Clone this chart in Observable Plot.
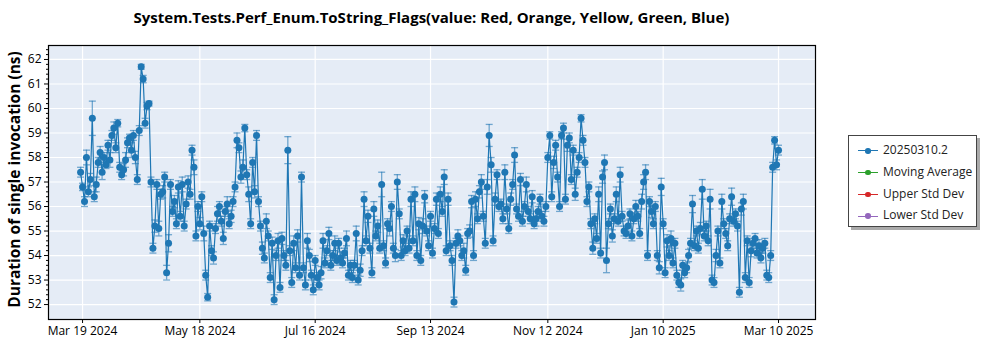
<!DOCTYPE html>
<html>
<head>
<meta charset="utf-8">
<script src="https://cdn.jsdelivr.net/npm/d3@7"></script>
<script src="https://cdn.jsdelivr.net/npm/@observablehq/plot@0.6"></script>
<style>
  body { margin: 0; background: #fff; font-family: "Open Sans", sans-serif; }
  #wrap { position: relative; width: 1000px; height: 350px; overflow: hidden; }
  #title { position: absolute; left: 48px; width: 767px; top: 7px; text-align: center;
           font-weight: bold; font-size: 15px; color: #000; white-space: nowrap; }
  #chart { position: absolute; left: 0; top: 40px; }
  #legend { position: absolute; left: 848px; top: 135px; width: 129px; height: 92px;
            border: 1px solid #444; background: #fff; box-shadow: 3px 3px 0 #aaa;
            box-sizing: border-box; padding-top: 3px; }
  .item { height: 21.8px; line-height: 21.8px; font-size: 12px; color: #222; white-space: nowrap; }
  .sym { display: inline-block; position: relative; width: 20px; height: 10px;
         margin-left: 9px; margin-right: 5px; vertical-align: middle; }
  .sym::before { content: ""; position: absolute; left: 0; right: 0; top: 4.5px; height: 1.2px; background: var(--c); }
  .sym::after { content: ""; position: absolute; left: 7px; top: 2.3px; width: 5.5px; height: 5.5px;
                border-radius: 50%; background: var(--c); }
</style>
</head>
<body>
<div id="wrap">
  <div id="title"></div>
  <div id="chart"></div>
  <div id="legend"></div>
</div>
<script>
const chartTitle = "System.Tests.Perf_Enum.ToString_Flags(value: Red, Orange, Yellow, Green, Blue)";
const yAxisLabel = "Duration of single invocation (ns)";
const seriesNames = ["20250310.2", "Moving Average", "Upper Std Dev", "Lower Std Dev"];
const seriesColors = ["#1f77b4", "#2ca02c", "#d62728", "#9467bd"];

// first run date; one run per day after it
const firstRun = "2024-03-18";

// mean duration (ns) per daily run
const values = [
  57.4, 56.8, 56.2, 58.0, 56.6, 57.1, 59.6, 56.4, 56.9,
  57.8, 58.2, 57.4, 58.0, 57.7,
  58.5, 57.9, 58.9, 59.2, 58.4, 59.4,
  57.6, 57.3, 57.5, 57.9,
  58.6, 58.8, 58.3, 58.9, 58.0, 57.1,
  59.1, 61.7, 61.2,
  59.4, 60.1, 60.2, 57.0, 54.3, 55.2, 56.9, 55.1,
  56.5, 56.6, 57.2, 53.3, 54.5, 56.9, 55.8, 56.2,
  55.3, 56.8, 55.6, 56.9, 55.2, 56.1, 57.0, 56.5, 58.3, 57.6, 54.8,
  56.0, 55.3, 56.4, 54.9, 53.2, 52.3, 55.2,
  54.2, 53.9, 55.1, 55.7, 56.0, 55.4, 54.7, 55.8, 56.1, 55.3, 55.6, 56.2,
  56.8, 58.7, 58.4, 57.2, 57.6, 59.2, 57.3, 56.5, 55.3, 57.8, 56.6, 58.9, 56.2,
  55.2, 54.3, 53.9, 55.4, 54.8, 53.1, 54.5, 52.2, 54.0, 54.6, 52.7, 54.7, 54.0, 53.6,
  58.3, 54.2, 52.9, 54.5, 53.5, 54.8, 53.2, 57.2, 53.5, 52.8, 54.6, 54.0, 53.2, 52.6, 53.8,
  53.1, 52.8, 53.3, 54.6, 53.7, 54.2, 54.9, 53.6, 54.0, 54.5, 53.8, 54.5, 53.9, 53.7, 54.1, 54.7, 53.2, 53.6,
  53.1, 53.6, 54.9, 53.0, 53.4, 54.2,
  56.3, 54.6, 55.6, 54.3, 53.3, 55.9, 54.8, 55.2, 54.3, 56.9, 54.4, 53.7,
  55.3, 55.1, 56.0, 54.3, 54.0, 57.0, 55.7, 54.0, 54.6, 54.2, 55.0, 54.3,
  56.3, 54.6, 56.5, 54.0, 55.3, 53.8, 55.2, 56.4, 55.0, 54.4, 55.6, 54.1,
  55.1, 56.3, 54.9, 56.5, 55.8, 57.2, 54.2, 56.3, 54.4, 53.8,
  52.1, 54.5, 54.8, 54.6, 54.0, 54.2, 53.4, 54.9, 55.0,
  56.2, 54.0, 56.3, 55.5, 56.6, 57.0, 55.6, 54.5, 56.8, 58.9, 57.7, 54.6, 56.3, 57.3, 56.0,
  56.1, 55.5, 57.4, 55.9, 55.1, 56.3, 56.9, 58.1, 55.9, 55.6, 57.1, 55.4, 56.0, 56.9, 55.8, 55.5, 56.4, 55.3, 55.5, 55.8, 56.3, 55.6, 55.4,
  56.0, 58.0, 58.9, 56.4, 57.8, 58.5, 57.2, 56.0, 58.9, 59.2, 56.3, 58.5, 58.8, 57.1, 58.3, 56.5, 57.4, 58.0, 59.6, 58.7, 57.8, 56.2,
  56.8, 55.3, 54.3, 55.5, 54.7, 56.5, 54.1, 57.2, 57.8, 53.8,
  55.3, 55.9, 54.8, 55.5, 56.5, 55.4, 57.3, 55.6, 55.0, 54.9, 55.2, 55.7, 54.8, 55.5, 56.0, 55.6, 54.9, 56.2, 57.0,
  57.4, 54.0, 56.2, 55.8, 55.3, 56.0, 54.0, 53.5, 56.8, 55.3,
  53.3, 54.6, 54.0, 54.7, 53.7, 54.5, 53.2, 52.9, 52.8, 53.6,
  53.3, 53.5, 54.0, 54.5, 56.1, 54.4, 55.0, 54.3, 55.1, 56.7, 54.8, 55.2,
  54.6, 56.3, 53.0, 52.9, 54.0, 55.0, 53.7, 56.2, 55.3, 54.9,
  54.4, 55.5, 56.4, 55.4, 55.7, 55.2, 52.5, 55.9, 56.2, 53.1,
  54.6, 52.9, 54.2, 54.5, 54.7, 54.1, 54.4, 53.9, 54.3, 54.5, 53.2, 53.1, 54.0,
  57.6, 58.7, 57.7, 58.3
];

// error-bar half width (ns) per run
const errors = [
  0.2, 0.15, 0.2, 0.3, 0.2, 0.25, 0.7, 0.2, 0.3,
  0.2, 0.25, 0.3, 0.2, 0.15,
  0.2, 0.3, 0.2, 0.25, 0.2, 0.15,
  0.2, 0.2, 0.25, 0.3,
  0.2, 0.15, 0.3, 0.2, 0.25, 0.2,
  0.2, 0.1, 0.15,
  0.2, 0.15, 0.1, 0.2, 0.2, 0.25, 0.2, 0.3,
  0.2, 0.25, 0.2, 0.3, 0.35, 0.2, 0.2, 0.25,
  0.2, 0.25, 0.2, 0.3, 0.2, 0.2, 0.25, 0.2, 0.2, 0.3, 0.2,
  0.2, 0.25, 0.2, 0.3, 0.2, 0.15, 0.2,
  0.2, 0.25, 0.2, 0.3, 0.2, 0.2, 0.25, 0.2, 0.3, 0.2, 0.25, 0.2,
  0.2, 0.3, 0.2, 0.25, 0.3, 0.15, 0.2, 0.3, 0.2, 0.2, 0.25, 0.2, 0.2,
  0.2, 0.25, 0.2, 0.3, 0.2, 0.2, 0.25, 0.2, 0.2, 0.3, 0.2, 0.25, 0.2, 0.2,
  0.55, 0.2, 0.2, 0.3, 0.2, 0.25, 0.2, 0.2, 0.2, 0.2, 0.3, 0.25, 0.2, 0.2, 0.2,
  0.2, 0.2, 0.25, 0.3, 0.2, 0.2, 0.25, 0.2, 0.2, 0.3, 0.2, 0.2, 0.25, 0.2, 0.2, 0.3, 0.2, 0.2,
  0.2, 0.2, 0.3, 0.2, 0.25, 0.2,
  0.3, 0.2, 0.25, 0.2, 0.2, 0.3, 0.2, 0.25, 0.2, 0.5, 0.2, 0.2,
  0.2, 0.3, 0.2, 0.2, 0.25, 0.3, 0.2, 0.2, 0.25, 0.2, 0.2, 0.2,
  0.3, 0.2, 0.3, 0.2, 0.25, 0.2, 0.3, 0.25, 0.2, 0.2, 0.2, 0.2,
  0.2, 0.25, 0.2, 0.3, 0.2, 0.3, 0.2, 0.25, 0.2, 0.2,
  0.2, 0.2, 0.25, 0.2, 0.2, 0.3, 0.2, 0.2, 0.25,
  0.25, 0.2, 0.3, 0.2, 0.25, 0.3, 0.2, 0.2, 0.3, 0.45, 0.3, 0.2, 0.25, 0.2, 0.2,
  0.2, 0.2, 0.3, 0.2, 0.2, 0.25, 0.2, 0.3, 0.2, 0.2, 0.25, 0.2, 0.2, 0.3, 0.2, 0.2, 0.25, 0.2, 0.3, 0.2, 0.2, 0.2, 0.2,
  0.2, 0.2, 0.15, 0.2, 0.25, 0.2, 0.2, 0.2, 0.15, 0.2, 0.2, 0.25, 0.2, 0.2, 0.2, 0.25, 0.2, 0.2, 0.15, 0.2, 0.2, 0.2,
  0.2, 0.2, 0.25, 0.2, 0.2, 0.3, 0.2, 0.25, 0.3, 0.5,
  0.2, 0.2, 0.25, 0.2, 0.3, 0.2, 0.3, 0.2, 0.2, 0.2, 0.25, 0.2, 0.2, 0.2, 0.25, 0.2, 0.2, 0.3, 0.3,
  0.3, 0.2, 0.2, 0.25, 0.2, 0.2, 0.2, 0.25, 0.35, 0.2,
  0.2, 0.25, 0.2, 0.3, 0.2, 0.2, 0.2, 0.2, 0.25, 0.2,
  0.2, 0.2, 0.25, 0.2, 0.35, 0.2, 0.2, 0.2, 0.25, 0.4, 0.2, 0.2,
  0.2, 0.4, 0.2, 0.2, 0.25, 0.2, 0.2, 0.3, 0.2, 0.2,
  0.2, 0.2, 0.35, 0.2, 0.2, 0.2, 0.2, 0.25, 0.3, 0.2,
  0.2, 0.2, 0.25, 0.2, 0.2, 0.2, 0.25, 0.2, 0.2, 0.2, 0.2, 0.2, 0.2,
  0.2, 0.15, 0.2, 0.2
];

const xTickDates = ["2024-03-19", "2024-05-18", "2024-07-16", "2024-09-13", "2024-11-12", "2025-01-10", "2025-03-10"];
const yTickValues = [52, 53, 54, 55, 56, 57, 58, 59, 60, 61, 62];
const xDomain = ["2024-03-01T14:00", "2025-03-28T22:00"];
const yDomain = [51.39, 62.57];

// ---- build ----
const parseUTC = s => new Date(s.length > 10 ? s + ":00Z" : s + "T00:00:00Z");
const start = parseUTC(firstRun);
const data = values.map((v, i) => ({
  date: d3.utcDay.offset(start, i),
  value: v,
  lo: v - errors[i],
  hi: v + errors[i]
}));
const xTicks = xTickDates.map(parseUTC);
const yMinor = d3.range(52, 62.5, 0.2).map(v => +v.toFixed(1)).filter(v => !yTickValues.includes(v));
const blue = seriesColors[0];
const cap = { draw(ctx) { ctx.moveTo(-3.5, 0); ctx.lineTo(3.5, 0); } };

const chart = Plot.plot({
  width: 1000,
  height: 310,
  marginLeft: 48,
  marginRight: 185,
  marginTop: 5,
  marginBottom: 31,
  style: { fontFamily: "Open Sans, sans-serif", fontSize: "12px", color: "#000", background: "transparent", overflow: "visible" },
  x: { type: "utc", domain: xDomain.map(parseUTC) },
  y: { domain: yDomain },
  marks: [
    Plot.frame({ fill: "#e5ecf6" }),
    Plot.gridX(xTicks, { stroke: "#fff", strokeOpacity: 1, strokeWidth: 1.2 }),
    Plot.gridY(yTickValues, { stroke: "#fff", strokeOpacity: 1, strokeWidth: 1.2 }),
    Plot.ruleX(data, { x: "date", y1: "lo", y2: "hi", stroke: blue, strokeOpacity: 0.6, strokeWidth: 1.3 }),
    Plot.dot(data, { x: "date", y: "lo", symbol: cap, stroke: blue, strokeOpacity: 0.6, strokeWidth: 1.3, fill: "none" }),
    Plot.dot(data, { x: "date", y: "hi", symbol: cap, stroke: blue, strokeOpacity: 0.6, strokeWidth: 1.3, fill: "none" }),
    Plot.line(data, { x: "date", y: "value", stroke: blue, strokeWidth: 1.2 }),
    Plot.dot(data, { x: "date", y: "value", r: 3.5, fill: blue, stroke: "none" }),
    Plot.frame({ stroke: "#000", strokeWidth: 1.2 }),
    Plot.axisX({ ticks: xTicks, tickFormat: d3.utcFormat("%b %d %Y"), tickSize: 4, tickPadding: 3, label: null }),
    Plot.axisY({ ticks: yTickValues, tickSize: 4, tickPadding: 3, label: null }),
    Plot.axisY({ ticks: yMinor, tickSize: 2, tickFormat: () => "", label: null }),
    Plot.text([yAxisLabel], { frameAnchor: "left", textAnchor: "middle", dx: -33, dy: -3, rotate: -90, fontSize: 15.5, fontWeight: "bold", fill: "#000" })
  ]
});
document.getElementById("chart").appendChild(chart);
document.getElementById("title").textContent = chartTitle;

const legend = document.getElementById("legend");
seriesNames.forEach((name, i) => {
  const row = document.createElement("div");
  row.className = "item";
  const sym = document.createElement("span");
  sym.className = "sym";
  sym.style.setProperty("--c", seriesColors[i]);
  row.appendChild(sym);
  row.appendChild(document.createTextNode(name));
  legend.appendChild(row);
});
</script>
</body>
</html>
